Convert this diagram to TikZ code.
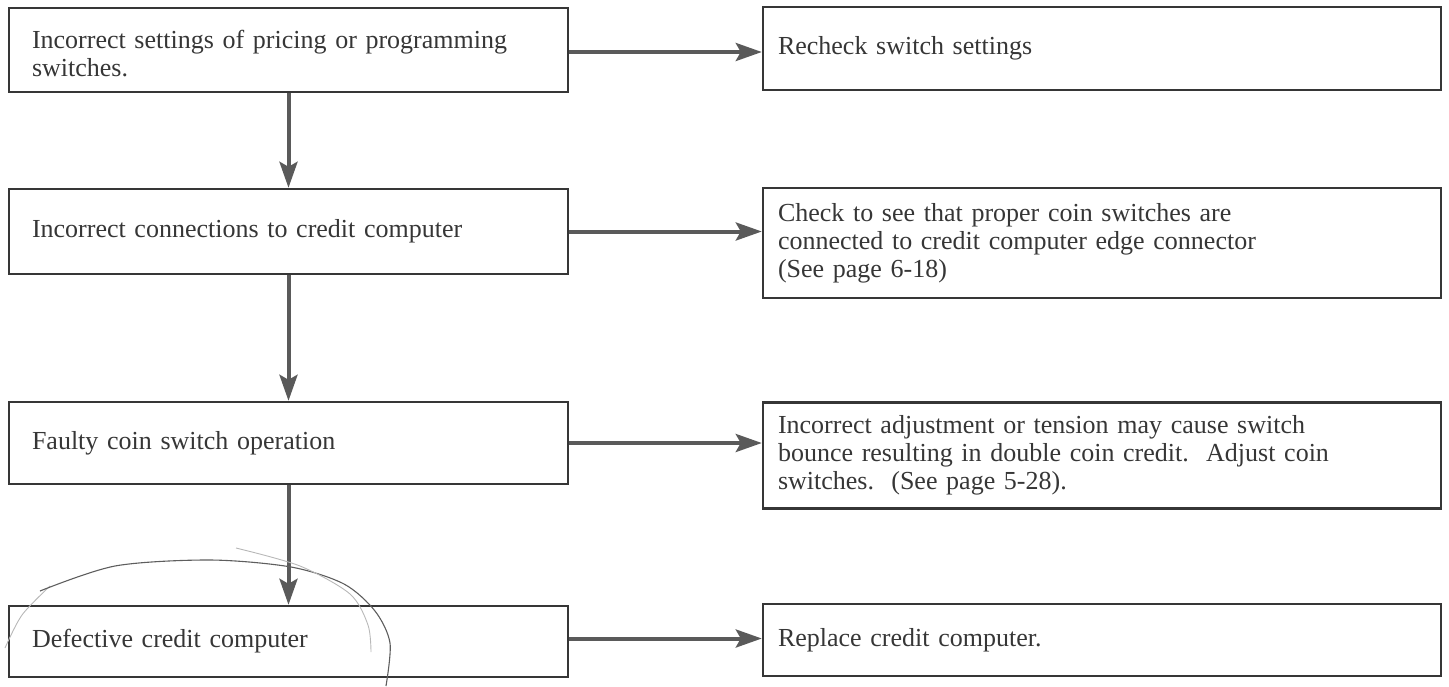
\documentclass[tikz,border=0pt]{standalone}
\usepackage{fontspec}
\setmainfont{Liberation Serif}
\usetikzlibrary{arrows.meta}
\definecolor{ink}{HTML}{363636}
\definecolor{arr}{HTML}{5A5A5A}
\definecolor{pencil}{HTML}{5E5E5E}
\definecolor{faint}{HTML}{B8B8B8}
\tikzset{
  box/.style={draw=ink, line width=2.4pt, text=ink, align=left,
    font=\fontsize{26}{28}\selectfont, inner ysep=4pt},
  lbox/.style={box, minimum width=559pt, text width=513pt, inner xsep=23pt},
  rbox/.style={box, minimum width=678pt, text width=648pt, inner xsep=15pt},
  flow/.style={draw=arr, line width=4pt,
    -{Stealth[length=26pt,width=18pt,inset=5pt]}},
  pencilline/.style={draw=pencil, line width=1.1pt},
  faintline/.style={draw=faint, line width=0.9pt},
}
\begin{document}
\begin{tikzpicture}[x=1pt,y=-1pt]
\useasboundingbox (0,0) rectangle (1449,686);
% left column
\node[lbox, minimum height=84pt] (b1) at (288.5,50) {\rule{0pt}{26pt}Incorrect settings of pricing or programming\\switches.};
\node[lbox, minimum height=85pt] (b2) at (288.5,231.5) {Incorrect connections to credit computer};
\node[lbox, minimum height=82pt] (b3) at (288.5,443) {Faulty coin switch operation};
\node[lbox, minimum height=71pt] (b4) at (288.5,641.5) {Defective credit computer};
% right column
\node[rbox, minimum height=83pt] (r1) at (1102,48.5) {Recheck switch settings};
\node[rbox, minimum height=110pt] (r2) at (1102,243) {Check to see that proper coin switches are\\connected to credit computer edge connector\\(See page 6-18)};
\node[rbox, minimum height=106pt] (r3) at (1102,455.5) {Incorrect adjustment or tension may cause switch\\bounce resulting in double coin credit.\ \ Adjust coin\\switches.\ \ (See page 5-28).};
\node[rbox, minimum height=72pt] (r4) at (1102,640) {Replace credit computer.};
% vertical connectors
\draw[flow] (b1.south) -- (b2.north);
\draw[flow] (b2.south) -- (b3.north);
\draw[flow] (b3.south) -- (b4.north);
% horizontal connectors
\coordinate (h1) at ([yshift=-2pt]b1.east);
\coordinate (h2) at (b2.east);
\coordinate (h3) at (b3.east);
\coordinate (h4) at ([yshift=3pt]b4.east);
\draw[flow] (h1) -- (h1 -| r1.west);
\draw[flow] (h2) -- (h2 -| r2.west);
\draw[flow] (h3) -- (h3 -| r3.west);
\draw[flow] (h4) -- (h4 -| r4.west);
% hand-drawn pencil mark
\draw[faintline] plot[smooth] coordinates {(5,648) (22,615) (50,586)};
\draw[pencilline] plot[smooth] coordinates {(40,591) (115,566) (210,560) (291,567) (344,584) (375,611) (390,643) (386,686)};
\draw[faintline] plot[smooth] coordinates {(236,548) (300,566) (350,594) (368,625) (371,652)};
\end{tikzpicture}
\end{document}
